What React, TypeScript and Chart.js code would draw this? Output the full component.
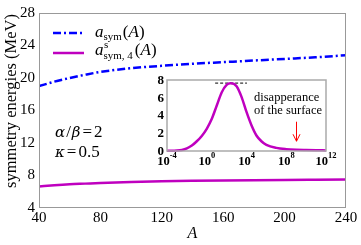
import React, { useEffect, useRef } from "react";
import { Chart, registerables } from "chart.js";

Chart.register(...registerables);

const SERIF = '"Liberation Serif", "Times New Roman", serif';
const GREEK = '"DejaVu Serif", "Liberation Serif", serif';

// Main panel data
const massNumbers = [40, 50, 60, 70, 80, 100, 120, 140, 160, 180, 200, 220, 240];
const aSym = [19.0, 19.55, 20.0, 20.4, 20.75, 21.2, 21.5, 21.75, 21.95, 22.15, 22.35, 22.55, 22.8];
const aSym4 = [6.65, 6.8, 6.92, 7.0, 7.08, 7.2, 7.28, 7.34, 7.39, 7.43, 7.46, 7.48, 7.5];
const xMin = 40;
const xMax = 240;
const xStep = 40;
const yMin = 4;
const yMax = 28;
const yStep = 4;

// Inset data
const insetX = [
  1e-4, 1e-3, 3.16e-3, 1e-2, 3.16e-2, 0.1, 0.316, 1, 3.16, 10, 31.6, 100, 251, 1e3, 3.16e3, 1e4,
  3.16e4, 1e5, 3.16e5, 1e6, 1e7, 1e8, 1e9, 1e10, 1e11, 1e12,
];
const insetY = [
  0.02, 0.05, 0.12, 0.3, 0.62, 1.1, 1.7, 2.5, 3.6, 5.1, 6.6, 7.45, 7.63, 7.3, 6.1, 4.4,
  2.9, 1.75, 1.1, 0.7, 0.35, 0.2, 0.13, 0.1, 0.08, 0.07,
];
const insetXTicks = [1e-4, 1, 1e4, 1e8, 1e12];
const insetXTickExps = ["-4", "0", "4", "8", "12"];
const insetYTicks = [0, 2, 4, 6, 8];
const peakMarkX = [7, 1.1e4];
const peakMarkY = [7.65, 7.65];
const arrowX = 1e9;
const arrowTop = 3.3;
const arrowBottom = 1.1;

type Run = { t: string; f: string; dy?: number; dx?: number };

function drawRuns(ctx: CanvasRenderingContext2D, x: number, y: number, runs: Run[]) {
  let cx = x;
  for (const r of runs) {
    ctx.font = r.f;
    cx += r.dx || 0;
    ctx.fillText(r.t, cx, y + (r.dy || 0));
    cx += ctx.measureText(r.t).width;
  }
  return cx;
}

const mainDecor = {
  id: "mainDecor",
  afterDraw(chart: any) {
    const ctx: CanvasRenderingContext2D = chart.ctx;
    const a = chart.chartArea;
    ctx.save();
    ctx.strokeStyle = "#999999";
    ctx.lineWidth = 1;
    ctx.strokeRect(a.left + 0.5, a.top + 0.5, a.right - a.left - 1, a.bottom - a.top - 1);

    ctx.fillStyle = "#000";
    ctx.textBaseline = "alphabetic";
    ctx.textAlign = "left";
    const it17 = `italic 17px ${SERIF}`;
    const gr = `italic 15px ${GREEK}`;
    const r17 = `17px ${SERIF}`;
    const r11 = `11px ${SERIF}`;

    // x title
    ctx.textAlign = "center";
    ctx.font = `italic 16px ${SERIF}`;
    ctx.fillText("A", (a.left + a.right) / 2, 238);

    // y title
    ctx.save();
    ctx.translate(12, 101);
    ctx.rotate(-Math.PI / 2);
    ctx.textBaseline = "middle";
    ctx.font = `16.5px ${SERIF}`;
    ctx.fillText("symmetry energies (MeV)", 0, 0);
    ctx.restore();
    ctx.textAlign = "left";

    // legend
    ctx.save();
    ctx.lineWidth = 2.5;
    ctx.strokeStyle = "#0000ff";
    ctx.setLineDash([8, 3, 2, 3]);
    ctx.beginPath();
    ctx.moveTo(53, 33);
    ctx.lineTo(84, 33);
    ctx.stroke();
    ctx.setLineDash([]);
    ctx.strokeStyle = "#bf00bf";
    ctx.beginPath();
    ctx.moveTo(53, 53);
    ctx.lineTo(84, 53);
    ctx.stroke();
    ctx.restore();

    drawRuns(ctx, 95, 37, [
      { t: "a", f: it17 },
      { t: "sym", f: r11, dy: 3 },
      { t: "(", f: r17, dx: 1 },
      { t: "A", f: it17 },
      { t: ")", f: r17 },
    ]);
    let x2 = drawRuns(ctx, 95, 55, [{ t: "a", f: it17 }]);
    ctx.font = r11;
    ctx.fillText("s", x2 + 0.5, 48);
    ctx.fillText("sym, 4", x2, 58.5);
    x2 += ctx.measureText("sym, 4").width;
    drawRuns(ctx, x2, 55, [
      { t: "(", f: r17, dx: 2 },
      { t: "A", f: it17 },
      { t: ")", f: r17 },
    ]);

    // annotations
    drawRuns(ctx, 55, 137, [
      { t: "α", f: gr },
      { t: "/", f: r17, dx: 1 },
      { t: "β", f: gr, dx: 1 },
      { t: "=", f: r17, dx: 2 },
      { t: "2", f: r17, dx: 2 },
    ]);
    drawRuns(ctx, 55, 157, [
      { t: "κ", f: gr },
      { t: "=", f: r17, dx: 2 },
      { t: "0.5", f: r17, dx: 2 },
    ]);
    ctx.restore();
  },
};

const insetDecor = {
  id: "insetDecor",
  afterDraw(chart: any) {
    const ctx: CanvasRenderingContext2D = chart.ctx;
    const a = chart.chartArea;
    const xs = chart.scales.x;
    const ys = chart.scales.y;
    ctx.save();
    ctx.strokeStyle = "#aaaaaa";
    ctx.lineWidth = 1.5;
    ctx.strokeRect(a.left, a.top, a.right - a.left, a.bottom - a.top);

    ctx.fillStyle = "#000";
    // y tick labels
    ctx.font = `bold 13px ${SERIF}`;
    ctx.textAlign = "right";
    ctx.textBaseline = "middle";
    for (const v of insetYTicks) {
      ctx.fillText(String(v), a.left - 3, ys.getPixelForValue(v) + 0.5);
    }
    // x tick labels
    ctx.textBaseline = "alphabetic";
    ctx.textAlign = "left";
    const base = `bold 12.5px ${SERIF}`;
    const sup = `bold 8.5px ${SERIF}`;
    insetXTicks.forEach((v, i) => {
      ctx.font = base;
      const w1 = ctx.measureText("10").width;
      ctx.font = sup;
      const w2 = ctx.measureText(insetXTickExps[i]).width;
      const px = xs.getPixelForValue(v);
      const start = px - (w1 + w2) / 2;
      ctx.font = base;
      ctx.fillText("10", start, 165);
      ctx.font = sup;
      ctx.fillText(insetXTickExps[i], start + w1, 158);
    });

    // annotation text
    ctx.font = `12.5px ${SERIF}`;
    ctx.fillText("disapperance", 254, 101);
    ctx.fillText("of the surface", 254, 113.5);

    // red arrow
    const ax = Math.round(xs.getPixelForValue(arrowX)) + 0.5;
    const at = ys.getPixelForValue(arrowTop);
    const ab = ys.getPixelForValue(arrowBottom);
    ctx.strokeStyle = "#ff0000";
    ctx.lineWidth = 1;
    ctx.beginPath();
    ctx.moveTo(ax, at);
    ctx.lineTo(ax, ab);
    ctx.moveTo(ax - 3.5, ab - 7);
    ctx.lineTo(ax, ab);
    ctx.lineTo(ax + 3.5, ab - 7);
    ctx.stroke();
    ctx.restore();
  },
};

export default function App() {
  const mainRef = useRef<HTMLCanvasElement>(null);
  const insetRef = useRef<HTMLCanvasElement>(null);

  useEffect(() => {
    const main = new Chart(mainRef.current as HTMLCanvasElement, {
      type: "line",
      data: {
        datasets: [
          {
            data: massNumbers.map((x, i) => ({ x, y: aSym[i] })),
            borderColor: "#0000ff",
            borderWidth: 2.5,
            borderDash: [8, 3, 2, 3],
            pointRadius: 0,
            tension: 0.4,
            cubicInterpolationMode: "monotone",
          },
          {
            data: massNumbers.map((x, i) => ({ x, y: aSym4[i] })),
            borderColor: "#bf00bf",
            borderWidth: 2.5,
            pointRadius: 0,
            tension: 0.4,
            cubicInterpolationMode: "monotone",
          },
        ],
      },
      options: {
        animation: false,
        responsive: false,
        devicePixelRatio: 1,
        layout: { padding: { left: 0, top: 9, right: 15, bottom: 0 } },
        plugins: { legend: { display: false }, tooltip: { enabled: false } },
        scales: {
          x: {
            type: "linear",
            min: xMin,
            max: xMax,
            grid: { display: false, drawTicks: false },
            border: { display: false },
            ticks: {
              stepSize: xStep,
              padding: 1,
              color: "#000",
              font: { family: SERIF, size: 15 },
            },
            afterFit: (s: any) => {
              s.height = 37;
            },
          },
          y: {
            min: yMin,
            max: yMax,
            grid: { display: false, drawTicks: false },
            border: { display: false },
            ticks: {
              stepSize: yStep,
              padding: 4,
              color: "#000",
              font: { family: SERIF, size: 15 },
            },
            afterFit: (s: any) => {
              s.width = 39;
            },
          },
        },
      } as any,
      plugins: [mainDecor],
    });

    const inset = new Chart(insetRef.current as HTMLCanvasElement, {
      type: "line",
      data: {
        datasets: [
          {
            data: insetX.map((x, i) => ({ x, y: insetY[i] })),
            borderColor: "#bf00bf",
            borderWidth: 2.5,
            pointRadius: 0,
            tension: 0.4,
            cubicInterpolationMode: "monotone",
            clip: 4,
          },
          {
            data: peakMarkX.map((x, i) => ({ x, y: peakMarkY[i] })),
            borderColor: "#000",
            borderWidth: 1,
            borderDash: [3, 2],
            pointRadius: 0,
            clip: 4,
          },
        ],
      },
      options: {
        animation: false,
        responsive: false,
        devicePixelRatio: 1,
        layout: { padding: { left: 167, top: 80, right: 35, bottom: 94 } },
        plugins: { legend: { display: false }, tooltip: { enabled: false } },
        scales: {
          x: { type: "logarithmic", min: 1e-4, max: 1e12, display: false },
          y: { type: "linear", min: 0, max: 8, display: false },
        },
      } as any,
      plugins: [insetDecor],
    });

    return () => {
      main.destroy();
      inset.destroy();
    };
  }, []);

  return (
    <div
      style={{
        position: "fixed",
        left: 0,
        top: 0,
        width: 361,
        height: 245,
        background: "#fff",
      }}
    >
      <canvas
        ref={mainRef}
        width={361}
        height={245}
        style={{ position: "absolute", left: 0, top: 0, width: 361, height: 245 }}
      />
      <canvas
        ref={insetRef}
        width={361}
        height={245}
        style={{ position: "absolute", left: 0, top: 0, width: 361, height: 245 }}
      />
    </div>
  );
}
